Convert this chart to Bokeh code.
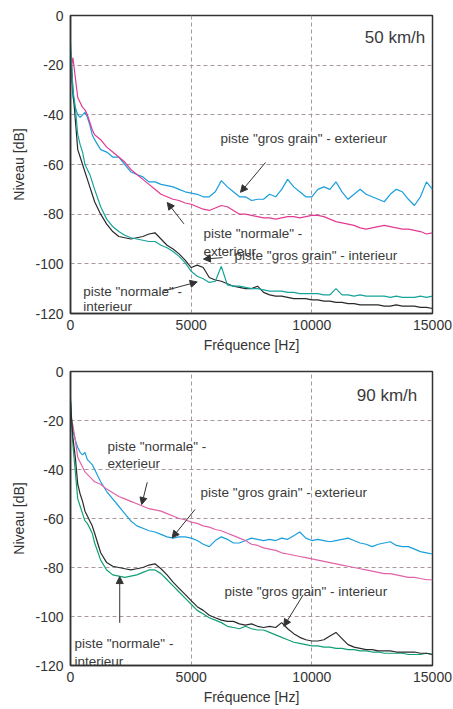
from bokeh.plotting import figure
from bokeh.layouts import column
from bokeh.models import Range1d, FixedTicker, Label, Arrow, NormalHead
from bokeh.embed import file_html
from bokeh.resources import INLINE

FONT = "Liberation Sans"

# Frequency axis (Hz)
FREQ = [0, 50, 100, 200, 300, 400, 500, 600, 700, 800, 900] + list(range(1000, 15001, 250))

X_TICKS = [0, 5000, 10000, 15000]
Y_TICKS = [0, -20, -40, -60, -80, -100, -120]
Y_TICK_LABELS = ["0", "-20", "-40", "-60", "-80", "-100", "-120"]

# ---------------- 50 km/h ----------------
v50_gros_ext = [-28, -24, -33, -37, -40, -41, -40, -39, -41, -44, -48,
                -50, -54, -55, -57, -57, -60, -63, -64, -65, -67, -67, -68,
                -68.5, -69, -70, -71, -71.5, -72, -73, -73, -71, -66.5, -69, -71,
                -73, -73, -74.5, -74, -74, -72, -73, -70, -66, -69, -71, -73,
                -73, -70, -69, -70, -67, -71, -74, -72, -70, -72, -73, -74,
                -75, -72, -70, -71, -74, -76.5, -73, -67, -70]
v50_norm_ext = [-30, -20, -17, -25, -33, -35, -37, -38, -40, -43, -46,
                -48, -50, -53, -55, -57, -59, -62, -64, -66, -68, -70, -72,
                -73, -74, -74.5, -75.5, -76, -77, -78, -78.5, -77.5, -76.5, -77, -78.5,
                -80, -80, -80.5, -81, -81.5, -81.5, -82, -81.5, -81, -81, -81.5, -81,
                -80.5, -80.5, -81, -82, -83, -83.5, -84, -84.5, -85.5, -86, -85.5, -85,
                -84.5, -85, -85.5, -86, -86, -86.5, -87, -88, -87.5]
v50_teal = [-11, -20, -30, -37, -48, -52, -55, -60, -62, -64, -67,
            -70, -77, -82, -85, -87, -88.5, -89.5, -90, -90.5, -91, -91, -92.5,
            -93.5, -95, -97, -99.5, -103, -105, -106, -107.5, -107, -101, -108.5, -109,
            -109, -109.5, -110, -110, -110.5, -111, -111, -111, -111.5, -111.5, -112, -112,
            -112, -112, -112.5, -112.5, -110, -112.5, -112.5, -113, -112.5, -113, -113, -113,
            -113, -113.5, -113, -113.5, -113.5, -113.5, -113, -113.5, -113]
v50_black = [-14, -22, -30, -42, -54, -57, -60, -63, -66, -69, -72,
             -75, -80, -84, -87, -89, -89.5, -90, -89.5, -89, -88, -87.5, -90,
             -92.5, -94, -96, -98.5, -101.5, -100.5, -101.5, -105.5, -106.5, -107, -108, -109,
             -109.5, -110, -110, -109, -111.5, -112.5, -113, -113, -113.5, -114, -114, -114,
             -114.5, -114.5, -115, -115, -115.5, -115.5, -116, -116, -116.5, -116.5, -116.5, -116.5,
             -117, -117, -116.5, -117, -117, -117, -117.5, -117.5, -118]

# ---------------- 90 km/h ----------------
v90_gros_ext = [-13, -21, -24, -28, -31, -33, -34, -33, -36, -37, -38,
                -40, -45, -49, -52, -55, -58, -61, -63, -64, -65, -65.5, -66.5,
                -67.5, -68, -67.5, -67.5, -68, -69, -70.5, -71.5, -69, -67.5, -68.5, -70,
                -70, -69, -68, -68.5, -69, -68.5, -69, -68, -68.5, -67, -65.5, -68,
                -69, -68.5, -69, -69.5, -69, -68.5, -68, -69, -70, -70.5, -71.5, -70.5,
                -70, -69.5, -71, -71.5, -71.5, -72.5, -73.5, -74, -74.5]
v90_norm_ext = [-16, -20, -22, -28, -35, -37, -39, -41, -42, -43, -44,
                -45, -46, -48, -49.5, -51, -52, -53, -54, -55, -56, -56.5, -57,
                -58, -59, -60, -60.5, -61.5, -62, -63, -63.5, -64.5, -65, -66, -67,
                -68, -69, -70.5, -71, -72, -72.5, -73, -74, -74.5, -75, -75.5, -76,
                -76.5, -77, -77.5, -78, -78.5, -79, -79.5, -80, -80.5, -81, -81.5, -82,
                -82.5, -82.5, -83, -83.5, -84, -84, -84.5, -85, -85]
v90_gros_int = [-12, -20, -27, -35, -46, -50, -53, -57, -59, -61, -63,
                -66, -74, -78, -79.5, -80, -80.5, -81, -80.5, -80, -79, -78.5, -80.5,
                -83, -86, -88.5, -91, -93.5, -96, -97.5, -99.5, -100.5, -101.5, -102, -102,
                -103, -103.5, -103, -104, -104.5, -104, -104.5, -102.5, -105, -107, -108.5, -109.5,
                -110, -110, -109.5, -108, -106.5, -109, -111.5, -112.5, -113, -113.5, -113.5, -114,
                -114, -114, -114.5, -114.5, -114.5, -114.5, -115, -115, -115.5]
v90_norm_int = [-11, -22, -30, -41, -52, -55, -58, -61, -62, -64, -66,
                -70, -77, -81, -83, -83.5, -84, -83.5, -83, -82, -81, -81, -82.5,
                -85, -87.5, -90, -92.5, -95, -97.5, -99, -100.5, -101.5, -102.5, -104, -104.5,
                -105, -104, -105, -105.5, -105.5, -106.5, -107.5, -108.5, -109.5, -110.5, -111, -111.5,
                -112, -112, -112.5, -112.5, -113, -113, -113.5, -113.5, -114, -114, -114.5, -114.5,
                -115, -115, -115, -115, -115.5, -115.5, -115.5, -115, -115.5]

BLUE = "#1a9fdc"
PINK_TOP = "#e23a92"
PINK_BOT = "#e062a8"
TEAL = "#16a39a"
GREEN = "#10a078"
BLACK = "#2a2a2a"
TXT = "#3a3a3a"

# annotation texts / positions (data units)
top_labels = [
    ("50 km/h", 14700, -9, "17px", "right", "middle"),
    ('piste "gros grain" - exterieur', 6220, -49.6, "13.5px", "left", "middle"),
    ('piste "normale" -', 5510, -87.9, "13.5px", "left", "middle"),
    ("exterieur", 5510, -95.2, "13.5px", "left", "middle"),
    ('piste "gros grain" - interieur', 6800, -96.8, "13.5px", "left", "middle"),
    ('piste "normale" -', 525, -111.0, "13.5px", "left", "middle"),
    ("interieur", 525, -120.0, "13.5px", "left", "bottom"),
]
top_arrows = [
    (8080, -59.2, 7045, -71.2),
    (4700, -83.9, 4010, -75.3),
    (6300, -97.5, 5510, -98.1),
    (3870, -110.9, 5250, -107.3),
]
bot_labels = [
    ("90 km/h", 14370, -9.7, "17px", "right", "middle"),
    ('piste "normale" -', 1530, -30.5, "13.5px", "left", "middle"),
    ("exterieur", 1530, -37.7, "13.5px", "left", "middle"),
    ('piste "gros grain" - exterieur', 5390, -49.2, "13.5px", "left", "middle"),
    ('piste "gros grain" - interieur', 6380, -89.8, "13.5px", "left", "middle"),
    ('piste "normale" -', 166, -111.2, "13.5px", "left", "middle"),
    ("interieur", 166, -118.2, "13.5px", "left", "middle"),
]
bot_arrows = [
    (3180, -45.2, 2950, -54.3),
    (5160, -56.3, 4210, -67.9),
    (9640, -91.2, 8840, -104.0),
    (2040, -102.6, 2040, -83.7),
]


def make_fig(height, btop, bbottom, series, labels, arrows):
    p = figure(width=453, height=height, output_backend="svg", toolbar_location=None,
               x_range=Range1d(0, 15000), y_range=Range1d(-120, 0),
               min_border_left=70, min_border_right=21,
               min_border_top=btop, min_border_bottom=bbottom)
    p.background_fill_color = "white"
    p.border_fill_color = "white"
    p.outline_line_color = "#333333"
    p.outline_line_width = 1.5
    for ys, col in series:
        p.line(FREQ, ys, line_color=col, line_width=1.2)
    for ax in (p.xaxis[0], p.yaxis[0]):
        ax.axis_line_color = "#333333"
        ax.axis_line_width = 1.5
        ax.major_tick_line_color = None
        ax.minor_tick_line_color = None
        ax.major_tick_out = 0
        ax.major_tick_in = 0
        ax.minor_tick_out = 0
        ax.minor_tick_in = 0
        ax.major_label_text_font = FONT
        ax.major_label_text_font_size = "14px"
        ax.major_label_text_color = "#333333"
        ax.axis_label_text_font = FONT
        ax.axis_label_text_font_size = "14px"
        ax.axis_label_text_font_style = "normal"
        ax.axis_label_text_color = "#333333"
    p.xaxis[0].ticker = FixedTicker(ticks=X_TICKS)
    p.yaxis[0].ticker = FixedTicker(ticks=Y_TICKS)
    p.yaxis[0].major_label_overrides = {t: l for t, l in zip(Y_TICKS, Y_TICK_LABELS)}
    p.xaxis[0].axis_label = "Fréquence [Hz]"
    p.yaxis[0].axis_label = "Niveau [dB]"
    p.xaxis[0].major_label_standoff = 6
    p.xaxis[0].axis_label_standoff = 4
    p.yaxis[0].major_label_standoff = 7
    p.yaxis[0].axis_label_standoff = 5
    for g in (p.xgrid[0], p.ygrid[0]):
        g.grid_line_color = "#a89a9a"
        g.grid_line_dash = "4 3"
        g.grid_line_width = 1
    for txt, x, y, fs, al, bl in labels:
        p.add_layout(Label(x=x, y=y, text=txt, text_font=FONT, text_font_size=fs,
                           text_color=TXT, text_align=al, text_baseline=bl))
    for xs, ys, xe, ye in arrows:
        p.add_layout(Arrow(end=NormalHead(size=7, fill_color="#333333", line_color="#333333", line_width=1),
                           x_start=xs, y_start=ys, x_end=xe, y_end=ye,
                           line_color="#333333", line_width=1))
    return p


p1 = make_fig(357, 15, 44,
              [(v50_gros_ext, BLUE), (v50_norm_ext, PINK_TOP), (v50_black, BLACK), (v50_teal, TEAL)],
              top_labels, top_arrows)
p2 = make_fig(352, 14, 44,
              [(v90_gros_ext, BLUE), (v90_norm_ext, PINK_BOT), (v90_norm_int, GREEN), (v90_gros_int, BLACK)],
              bot_labels, bot_arrows)

layout = column(p1, p2)
open("out.html", "w").write(file_html(layout, INLINE))
